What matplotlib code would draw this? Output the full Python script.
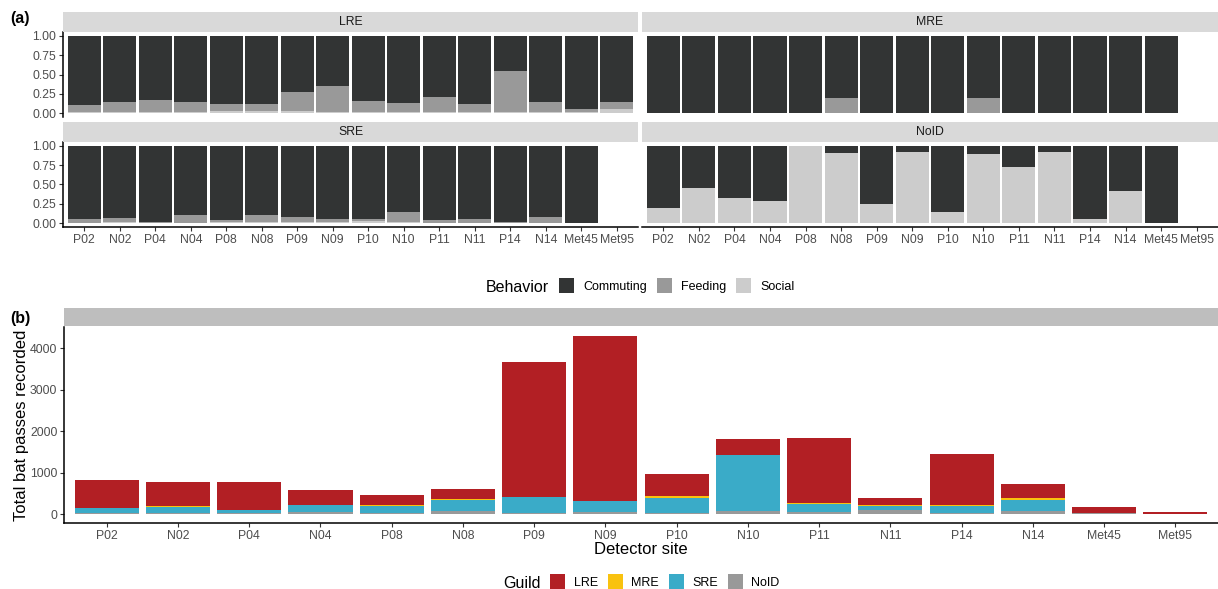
import numpy as np
import matplotlib
matplotlib.use("Agg")
import matplotlib.pyplot as plt
from matplotlib.patches import Rectangle

plt.rcParams['font.family'] = ['Liberation Sans', 'DejaVu Sans']

# ---------------------------------------------------------------- data
sites = ["P02", "N02", "P04", "N04", "P08", "N08", "P09", "N09",
         "P10", "N10", "P11", "N11", "P14", "N14", "Met45", "Met95"]

behaviors = ["Commuting", "Feeding", "Social"]
guilds = ["LRE", "MRE", "SRE", "NoID"]

nan = np.nan

# (a) proportion of passes per behaviour within each guild
lre_commuting = [0.89, 0.85, 0.83, 0.85, 0.88, 0.88, 0.72, 0.65, 0.84, 0.87, 0.79, 0.88, 0.45, 0.85, 0.94, 0.85]
lre_feeding   = [0.09, 0.13, 0.15, 0.13, 0.09, 0.09, 0.25, 0.34, 0.14, 0.12, 0.20, 0.10, 0.54, 0.14, 0.05, 0.09]
lre_social    = [0.02, 0.02, 0.02, 0.02, 0.03, 0.03, 0.03, 0.01, 0.02, 0.01, 0.01, 0.02, 0.01, 0.01, 0.01, 0.06]

mre_commuting = [1.0, 1.0, 1.0, 1.0, 1.0, 0.8, 1.0, 1.0, 1.0, 0.8, 1.0, 1.0, 1.0, 1.0, 1.0, nan]
mre_feeding   = [0.0, 0.0, 0.0, 0.0, 0.0, 0.2, 0.0, 0.0, 0.0, 0.2, 0.0, 0.0, 0.0, 0.0, 0.0, nan]
mre_social    = [0.0, 0.0, 0.0, 0.0, 0.0, 0.0, 0.0, 0.0, 0.0, 0.0, 0.0, 0.0, 0.0, 0.0, 0.0, nan]

sre_commuting = [0.94, 0.93, 0.985, 0.90, 0.965, 0.89, 0.925, 0.95, 0.94, 0.86, 0.955, 0.94, 0.987, 0.915, 1.0, nan]
sre_feeding   = [0.055, 0.06, 0.01, 0.095, 0.025, 0.10, 0.065, 0.04, 0.035, 0.13, 0.045, 0.06, 0.013, 0.085, 0.0, nan]
sre_social    = [0.005, 0.01, 0.005, 0.005, 0.01, 0.01, 0.01, 0.01, 0.025, 0.01, 0.0, 0.0, 0.0, 0.0, 0.0, nan]

noid_commuting = [0.80, 0.54, 0.67, 0.71, 0.0, 0.09, 0.75, 0.08, 0.86, 0.10, 0.28, 0.08, 0.95, 0.59, 1.0, nan]
noid_feeding   = [0.0, 0.0, 0.0, 0.0, 0.0, 0.0, 0.0, 0.0, 0.0, 0.0, 0.0, 0.0, 0.0, 0.0, 0.0, nan]
noid_social    = [0.20, 0.46, 0.33, 0.29, 1.0, 0.91, 0.25, 0.92, 0.14, 0.90, 0.72, 0.92, 0.05, 0.41, 0.0, nan]

# (b) total bat passes recorded per guild
passes_lre  = [691, 598, 692, 380, 239, 259, 3254, 3976, 551, 378, 1581, 167, 1245, 360, 163, 40]
passes_mre  = [1, 26, 1, 1, 26, 5, 1, 1, 26, 5, 25, 26, 26, 26, 1, 0]
passes_sre  = [112, 136, 64, 168, 160, 287, 399, 260, 375, 1365, 192, 96, 168, 287, 3, 0]
passes_noid = [24, 24, 24, 40, 24, 64, 24, 62, 24, 64, 40, 88, 16, 64, 16, 0]

behavior_colors = {"Commuting": "#323434", "Feeding": "#999999", "Social": "#CCCCCC"}
guild_colors = {"LRE": "#B21F24", "MRE": "#F9C20F", "SRE": "#3AABC8", "NoID": "#999999"}

# ---------------------------------------------------------------- layout
W, H = 1218, 589
fig = plt.figure(figsize=(W / 100, H / 100), dpi=100)
fig.patch.set_facecolor("white")


def fbox(x0, y0, x1, y1):
    """Pixel box (top-left origin) -> figure fraction rectangle."""
    return [x0 / W, 1 - y1 / H, (x1 - x0) / W, (y1 - y0) / H]


TICK_TXT = "#4D4D4D"
TICK_COL = "#333333"
x = np.arange(len(sites))


def style_axis(ax, left, bottom):
    for side in ("top", "right"):
        ax.spines[side].set_visible(False)
    ax.spines["left"].set_visible(left)
    ax.spines["bottom"].set_visible(bottom)
    for side in ("left", "bottom"):
        ax.spines[side].set_linewidth(1.1)
        ax.spines[side].set_color("black")
    ax.tick_params(axis="both", length=2.75, width=0.8, color=TICK_COL,
                   labelcolor=TICK_TXT, labelsize=8.8, pad=2.0)
    if not left:
        ax.tick_params(axis="y", left=False, labelleft=False)
    if not bottom:
        ax.tick_params(axis="x", bottom=False, labelbottom=False)


def strip(rect, title, color):
    s = fig.add_axes(fbox(*rect))
    s.set_facecolor(color)
    s.set_xticks([])
    s.set_yticks([])
    for sp in s.spines.values():
        sp.set_visible(False)
    if title:
        s.text(0.5, 0.5, title, ha="center", va="center", fontsize=8.8,
               color="#1A1A1A", transform=s.transAxes)
    return s


def facet(rect, strip_rect, title, comm, feed, soc, left, bottom):
    ax = fig.add_axes(fbox(*rect))
    comm = np.asarray(comm, float)
    feed = np.asarray(feed, float)
    soc = np.asarray(soc, float)
    ok = ~np.isnan(comm)
    xs = x[ok]
    width = 0.93
    ax.bar(xs, soc[ok], width, color=behavior_colors["Social"], linewidth=0)
    ax.bar(xs, feed[ok], width, bottom=soc[ok],
           color=behavior_colors["Feeding"], linewidth=0)
    ax.bar(xs, comm[ok], width, bottom=soc[ok] + feed[ok],
           color=behavior_colors["Commuting"], linewidth=0)
    ax.set_xlim(-0.6, len(sites) - 0.4)
    ax.set_ylim(-0.05, 1.05)
    ax.set_yticks([0, 0.25, 0.5, 0.75, 1.0])
    ax.set_yticklabels(["0.00", "0.25", "0.50", "0.75", "1.00"])
    ax.set_xticks(x)
    ax.set_xticklabels(sites)
    style_axis(ax, left, bottom)
    strip(strip_rect, title, "#D9D9D9")
    return ax


facet((63, 32, 638, 117), (63, 12, 638, 32), "LRE",
      lre_commuting, lre_feeding, lre_social, True, False)
facet((642, 32, 1218, 117), (642, 12, 1218, 32), "MRE",
      mre_commuting, mre_feeding, mre_social, False, False)
facet((63, 142, 638, 227), (63, 122, 638, 142), "SRE",
      sre_commuting, sre_feeding, sre_social, True, True)
facet((642, 142, 1218, 227), (642, 122, 1218, 142), "NoID",
      noid_commuting, noid_feeding, noid_social, False, True)

# ---------------------------------------------------------------- (b)
axb = fig.add_axes(fbox(64, 327, 1218, 523))
stack = [("NoID", passes_noid), ("SRE", passes_sre),
         ("MRE", passes_mre), ("LRE", passes_lre)]
base = np.zeros(len(sites))
for g, vals in stack:
    v = np.asarray(vals, float)
    axb.bar(x, v, 0.9, bottom=base, color=guild_colors[g], linewidth=0)
    base = base + v
top = base.max()
axb.set_xlim(-0.6, len(sites) - 0.4)
axb.set_ylim(-0.05 * top, 1.05 * top)
axb.set_yticks([0, 1000, 2000, 3000, 4000])
axb.set_xticks(x)
axb.set_xticklabels(sites)
style_axis(axb, True, True)
strip((64, 308, 1218, 326), "", "#BEBEBE")

fig.text(22 / W, 1 - 425 / H, "Total bat passes recorded", rotation=90,
         ha="center", va="center", fontsize=12, color="black")
fig.text(641 / W, 1 - 550 / H, "Detector site", ha="center", va="center",
         fontsize=12, color="black")

# panel tags
fig.text(10 / W, 1 - 18 / H, "(a)", ha="left", va="center",
         fontsize=11.5, fontweight="bold")
fig.text(10 / W, 1 - 318 / H, "(b)", ha="left", va="center",
         fontsize=11.5, fontweight="bold")


# ---------------------------------------------------------------- legends
def legend_row(title, title_x, yc, entries):
    fig.text(title_x / W, 1 - yc / H, title, ha="left", va="center_baseline",
             fontsize=11.5, color="black")
    for label, color, sx, tx in entries:
        fig.add_artist(Rectangle((sx / W, 1 - (yc + 7.5) / H), 15 / W, 15 / H,
                                 transform=fig.transFigure, facecolor=color,
                                 edgecolor="none"))
        fig.text(tx / W, 1 - yc / H, label, ha="left", va="center_baseline",
                 fontsize=9, color="black")


legend_row("Behavior", 486, 285.5,
           [(b, behavior_colors[b], sx, tx) for b, sx, tx in
            zip(behaviors, (559, 657, 736), (583, 681, 760))])
legend_row("Guild", 503, 581.5,
           [(g, guild_colors[g], sx, tx) for g, sx, tx in
            zip(guilds, (550, 608, 669, 728), (574, 631, 692, 751))])

fig.savefig("out.png", dpi=100, facecolor="white")
